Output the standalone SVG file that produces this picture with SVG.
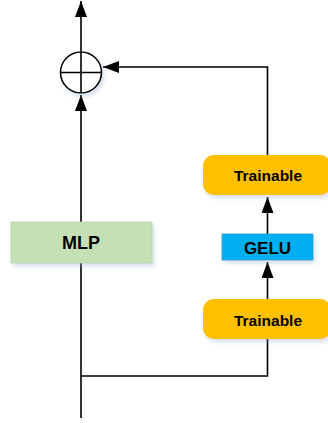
<svg xmlns="http://www.w3.org/2000/svg" width="328" height="423" viewBox="0 0 328 423">
<style>
.ln{fill:none;stroke:#000;stroke-width:1.6}
.lbl{font-family:"Liberation Sans",Arial,sans-serif;font-weight:bold;fill:#000;text-anchor:middle}
</style>
<defs>
<marker id="ah" markerUnits="userSpaceOnUse" markerWidth="17" markerHeight="13" refX="16" refY="6" orient="auto">
<path d="M0,0 L16,6 L0,12 z" fill="#000"/>
</marker>
<filter id="sh" x="-20%" y="-20%" width="150%" height="160%">
<feDropShadow dx="2" dy="3" stdDeviation="2" flood-color="#8ea6c8" flood-opacity="0.35"/>
</filter>
</defs>
<rect width="328" height="423" fill="#fff"/>
<g id="connectors">
<path class="ln" d="M81,418 V95" marker-end="url(#ah)"/>
<path class="ln" d="M81,376 H267.5 V339"/>
<path class="ln" d="M267.5,299 V262" marker-end="url(#ah)"/>
<path class="ln" d="M267.5,234 V197" marker-end="url(#ah)"/>
<path class="ln" d="M267.5,155 V67 H103" marker-end="url(#ah)"/>
<path class="ln" d="M81,52 V1" marker-end="url(#ah)"/>
</g>
<g id="add">
<circle cx="81" cy="72.5" r="20.5" fill="#fff" stroke="#000" stroke-width="1.6" filter="url(#sh)"/>
<path class="ln" d="M60.5,72.5 H101.5 M81,52 V93"/>
</g>
<g id="mlp">
<rect x="11" y="222" width="141" height="41" fill="#c5e0b4" stroke="#b9d5a6" stroke-width="0.8" filter="url(#sh)"/>
<text class="lbl" x="81" y="249" font-size="18">MLP</text>
</g>
<g id="trainable-top">
<rect x="203" y="155" width="128" height="40" rx="11" fill="#ffc000" filter="url(#sh)"/>
<text class="lbl" x="268" y="181" font-size="15.5">Trainable</text>
</g>
<g id="gelu">
<rect x="222" y="234" width="91" height="26" fill="#00b0f0" stroke="#2a9fd0" stroke-width="0.8" filter="url(#sh)"/>
<text class="lbl" x="267.5" y="254" font-size="17">GELU</text>
</g>
<g id="trainable-bottom">
<rect x="203" y="299" width="128" height="40" rx="11" fill="#ffc000" filter="url(#sh)"/>
<text class="lbl" x="268" y="325.5" font-size="15.5">Trainable</text>
</g>
</svg>
